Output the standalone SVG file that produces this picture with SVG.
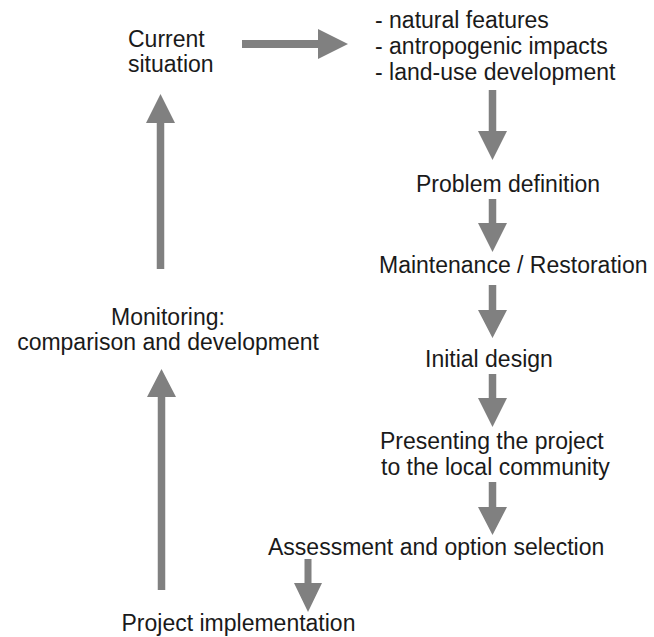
<svg xmlns="http://www.w3.org/2000/svg" width="654" height="637" viewBox="0 0 654 637">
<style>
text{font-family:"Liberation Sans",Arial,sans-serif;font-size:23px;fill:#1a1a1a}
.arrow{fill:#808080;stroke:none}
</style>
<rect width="654" height="637" fill="#ffffff"/>
<g id="connectors">
<polygon class="arrow" points="242,40 318,40 318,29 348,44 318,59 318,48 242,48"/>
<polygon class="arrow" points="488.75,90 496.25,90 496.25,131 507,131 492.5,160 478,131 488.75,131"/>
<polygon class="arrow" points="488.75,199 496.25,199 496.25,223 507,223 492.5,252 478,223 488.75,223"/>
<polygon class="arrow" points="488.75,285 496.25,285 496.25,310 507,310 492.5,338 478,310 488.75,310"/>
<polygon class="arrow" points="488.75,374 496.25,374 496.25,398 507,398 492.5,427 478,398 488.75,398"/>
<polygon class="arrow" points="488.75,482 496.25,482 496.25,507 507,507 492.5,535 478,507 488.75,507"/>
<polygon class="arrow" points="304.5,559 311.5,559 311.5,583 322,583 308,612 294,583 304.5,583"/>
<polygon class="arrow" points="156.75,269 164.25,269 164.25,123 175,123 160.5,94 146,123 156.75,123"/>
<polygon class="arrow" points="157.75,590 165.25,590 165.25,397 176,397 161.5,369 147,397 157.75,397"/>
</g>
<g id="current-situation">
<text x="128" y="47">Current</text>
<text x="128" y="72">situation</text>
</g>
<g id="features">
<text x="375" y="28">- natural features</text>
<text x="375" y="54">- antropogenic impacts</text>
<text x="375" y="80">- land-use development</text>
</g>
<g id="problem-definition">
<text x="416" y="192">Problem definition</text>
</g>
<g id="maintenance">
<text x="379" y="273">Maintenance / Restoration</text>
</g>
<g id="initial-design">
<text x="425" y="367">Initial design</text>
</g>
<g id="presenting">
<text x="380" y="449">Presenting the project</text>
<text x="381" y="475">to the local community</text>
</g>
<g id="assessment">
<text x="268" y="555">Assessment and option selection</text>
</g>
<g id="implementation">
<text x="121.5" y="631">Project implementation</text>
</g>
<g id="monitoring">
<text x="168" y="325" text-anchor="middle">Monitoring:</text>
<text x="168" y="350" text-anchor="middle">comparison and development</text>
</g>
</svg>
